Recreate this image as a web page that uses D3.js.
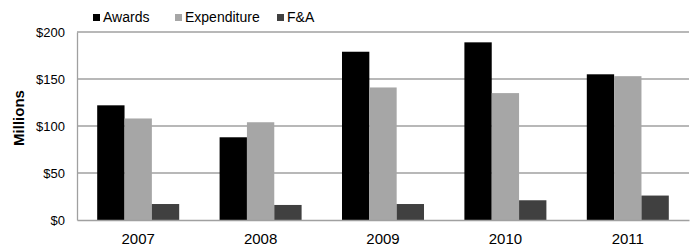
<!DOCTYPE html>
<html>
<head>
<meta charset="utf-8">
<script src="https://cdn.jsdelivr.net/npm/d3@7"></script>
<style>
  body { margin: 0; background: #fff; }
  text { font-family: "Liberation Sans", Arial, sans-serif; }
</style>
</head>
<body>
<div id="chart-area"></div>
<script>
// DATA
const years = ["2007", "2008", "2009", "2010", "2011"]
const seriesNames = ["Awards", "Expenditure", "F&A"]
const awards = [122, 88, 179, 189, 155]
const expenditure = [108, 104, 141, 135, 153]
const fanda = [17, 16, 17, 21, 26]
const yTicks = [0, 50, 100, 150, 200]

const seriesColors = ["#000000", "#a6a6a6", "#404040"]

// CHART AREA
const W = 691, H = 247
const margin = { left: 77, right: 2, top: 32, bottom: 27 }
const width = W - margin.left - margin.right
const height = H - margin.top - margin.bottom

const svg = d3.select("#chart-area")
  .append("svg")
    .attr("width", W)
    .attr("height", H)

const chart = svg.append("g")
  .attr("transform", "translate(" + margin.left + ", " + margin.top + ")")

// table built from the arrays
const table = years.map((y, i) => ({
  year: y,
  values: [awards[i], expenditure[i], fanda[i]]
}))

// SCALES
const x0 = d3.scaleBand()
  .domain(years)
  .range([0, width])
  .paddingInner(0.33)
  .paddingOuter(0.165)

const x1 = d3.scaleBand()
  .domain(d3.range(seriesNames.length))
  .range([0, x0.bandwidth()])

const y = d3.scaleLinear()
  .domain([0, 200])
  .range([height, 0])

// GRIDLINES
chart.append("g")
  .attr("class", "grid")
  .selectAll("line")
  .data(yTicks.filter(d => d > 0))
  .enter().append("line")
    .attr("x1", 0)
    .attr("x2", width)
    .attr("y1", d => y(d))
    .attr("y2", d => y(d))
    .attr("stroke", "#a0a0a0")
    .attr("stroke-width", 1.3)

// BARS
const groups = chart.selectAll("g.year")
  .data(table)
  .enter().append("g")
    .attr("class", "year")
    .attr("transform", d => "translate(" + x0(d.year) + ",0)")

groups.selectAll("rect")
  .data(d => d.values)
  .enter().append("rect")
    .attr("x", (d, i) => x1(i))
    .attr("y", d => y(d))
    .attr("width", x1.bandwidth())
    .attr("height", d => height - y(d))
    .attr("fill", (d, i) => seriesColors[i])

// AXES
const yAxisCall = d3.axisLeft(y)
  .tickValues(yTicks)
  .tickSize(0)
  .tickPadding(12)
  .tickFormat(d => "$" + d)
const yAxis = chart.append("g").call(yAxisCall)
yAxis.select(".domain").attr("stroke", "#a0a0a0").attr("stroke-width", 1.3)
yAxis.selectAll("text").attr("font-size", "13px").attr("fill", "#000")
  .attr("font-family", "Liberation Sans, Arial, sans-serif")

const xAxisCall = d3.axisBottom(x0).tickSize(0).tickPadding(13)
const xAxis = chart.append("g")
  .attr("transform", "translate(0," + height + ")")
  .call(xAxisCall)
xAxis.select(".domain").attr("stroke", "#a0a0a0").attr("stroke-width", 1.3)
xAxis.selectAll("text").attr("font-size", "15px").attr("fill", "#000")
  .attr("font-family", "Liberation Sans, Arial, sans-serif")

// Y AXIS LABEL
svg.append("text")
  .attr("transform", "rotate(-90)")
  .attr("x", -118)
  .attr("y", 24)
  .attr("text-anchor", "middle")
  .attr("font-size", "15px")
  .attr("font-weight", "bold")
  .text("Millions")

// LEGEND
const legendX = [93, 175, 277]
const legend = svg.selectAll("g.legend")
  .data(seriesNames)
  .enter().append("g")
    .attr("class", "legend")
    .attr("transform", (d, i) => "translate(" + legendX[i] + ",14)")

legend.append("rect")
  .attr("width", 7)
  .attr("height", 7)
  .attr("fill", (d, i) => seriesColors[i])

legend.append("text")
  .attr("x", 10)
  .attr("y", 8)
  .attr("font-size", "14px")
  .text(d => d)
</script>
</body>
</html>
